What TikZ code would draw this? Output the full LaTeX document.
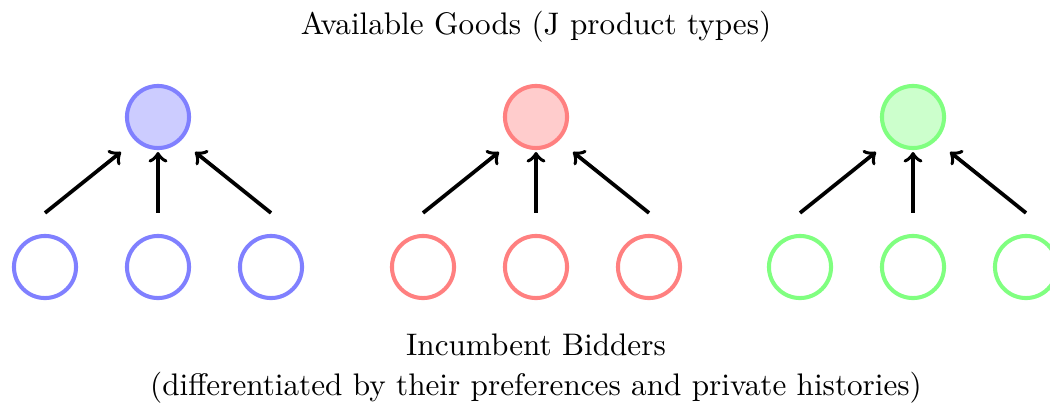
\documentclass[tikz,border=0pt]{standalone}

\begin{document}
\begin{tikzpicture}[x=0.3208pt,y=-0.3208pt,
  good/.style={circle,line width=1.3pt,minimum size=0.7cm,inner sep=0pt},
  bidder/.style={circle,line width=1.3pt,minimum size=0.7cm,inner sep=0pt},
  arr/.style={->,very thick}]
\useasboundingbox (0,0) rectangle (1050,403);

% Text Node
\node (goods) [anchor=base] at (536,34) {Available Goods (J product types)};

%Shape: Circle (goods)
\node (gb) [good,draw=blue!50,fill=blue!20] at (158,117) {};
\node (gr) [good,draw=red!50,fill=red!20] at (536,117) {};
\node (gg) [good,draw=green!50,fill=green!20] at (913,117) {};

%Shape: Circle (bidders)
\node (b1) [bidder,draw=blue!50] at (45,267) {};
\node (b2) [bidder,draw=blue!50] at (158,267) {};
\node (b3) [bidder,draw=blue!50] at (271,267) {};
\node (r1) [bidder,draw=red!50] at (423,267) {};
\node (r2) [bidder,draw=red!50] at (536,267) {};
\node (r3) [bidder,draw=red!50] at (649,267) {};
\node (g1) [bidder,draw=green!50] at (800,267) {};
\node (g2) [bidder,draw=green!50] at (913,267) {};
\node (g3) [bidder,draw=green!50] at (1026,267) {};

%Shape: Arrows
\draw [arr] ([shift={(0,-21)}]b1.north) -- ([shift={(-37,35)}]gb.center);
\draw [arr] ([shift={(0,-21)}]b2.north) -- ([shift={(0,35)}]gb.center);
\draw [arr] ([shift={(0,-21)}]b3.north) -- ([shift={(37,35)}]gb.center);
\draw [arr] ([shift={(0,-21)}]r1.north) -- ([shift={(-37,35)}]gr.center);
\draw [arr] ([shift={(0,-21)}]r2.north) -- ([shift={(0,35)}]gr.center);
\draw [arr] ([shift={(0,-21)}]r3.north) -- ([shift={(37,35)}]gr.center);
\draw [arr] ([shift={(0,-21)}]g1.north) -- ([shift={(-37,35)}]gg.center);
\draw [arr] ([shift={(0,-21)}]g2.north) -- ([shift={(0,35)}]gg.center);
\draw [arr] ([shift={(0,-21)}]g3.north) -- ([shift={(37,35)}]gg.center);

% Text Node
\node (bidders) [anchor=base] at (536,355) {Incumbent Bidders};
% Text Node
\node (histories) [anchor=base] at (536,395) {(differentiated by their preferences and private histories)};
\end{tikzpicture}
\end{document}
